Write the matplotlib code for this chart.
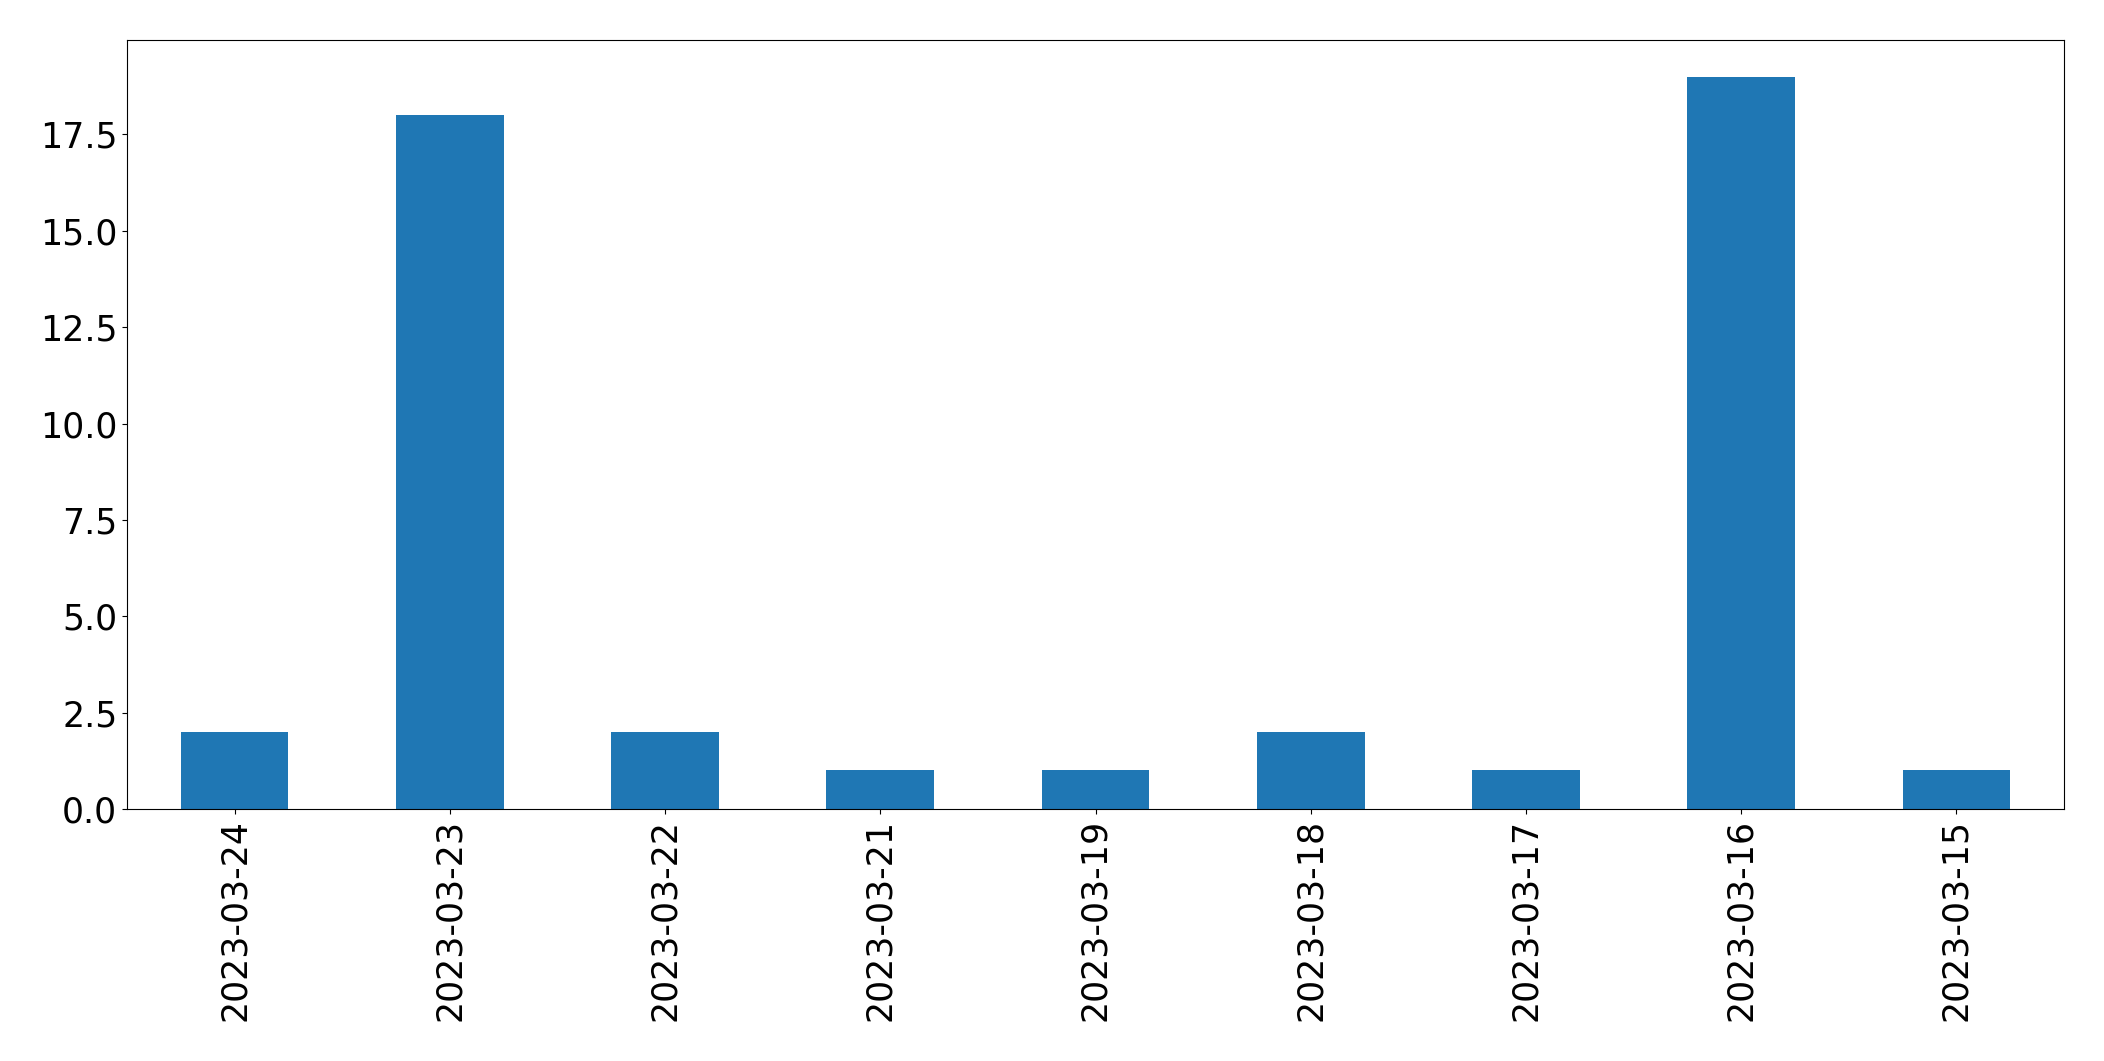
import matplotlib
matplotlib.use("Agg")
import matplotlib.pyplot as plt

dates = ["2023-03-24", "2023-03-23", "2023-03-22", "2023-03-21", "2023-03-19",
         "2023-03-18", "2023-03-17", "2023-03-16", "2023-03-15"]
counts = [2, 18, 2, 1, 1, 2, 1, 19, 1]

fig = plt.figure(figsize=(21.04, 10.61), dpi=100)
ax = fig.add_axes([127/2104, 1 - 809/1061, (2064-127)/2104, (809-40)/1061])
x = list(range(len(dates)))
ax.bar(x, counts, width=0.5, color="#1f77b4")
ax.set_xlim(-0.5, len(dates) - 0.5)
ax.set_ylim(0, max(counts) * 1.05)
ax.set_xticks(x)
ax.set_xticklabels(dates, rotation=90)
ax.tick_params(labelsize=25)
fig.savefig("out.png", dpi=100)
